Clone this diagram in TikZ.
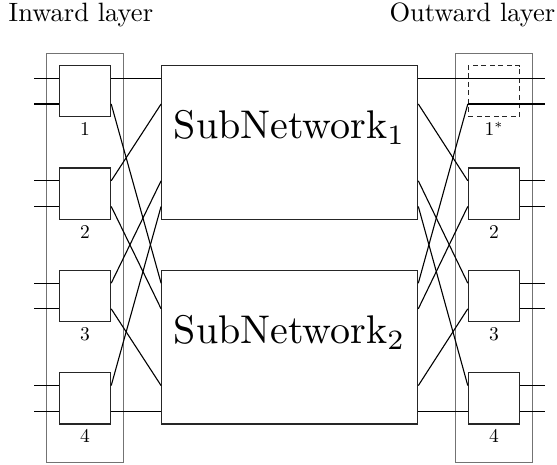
\documentclass[tikz,border=0pt]{standalone}
\usepackage{graphicx}
\begin{document}
\begin{tikzpicture}[x=1pt,y=-1pt,
  sbox/.style={draw=black!85, line width=1.2pt, minimum width=51.2pt, minimum height=51.2pt, inner sep=0pt},
  dbox/.style={sbox, dash pattern=on 5pt off 3.5pt},
  net/.style={draw=black!85, line width=1.2pt, minimum width=256pt, minimum height=153.6pt, inner sep=0pt},
  layerbox/.style={draw=black!55, line width=0.7pt, minimum width=76.6pt, minimum height=409pt, inner sep=0pt},
  wire/.style={line width=1.1pt},
  num/.style={inner sep=0pt, anchor=base},
  ttl/.style={inner sep=0pt},
  big/.style={inner sep=0pt, anchor=base}]
\useasboundingbox (0,0) rectangle (557,465);

\node[layerbox] (LL) at (85,257.8) {};
\node[layerbox] (RL) at (494,257.8) {};
\node[ttl, anchor=base west] (Tin) at (8.5,22) {\scalebox{2.65}{Inward layer}};
\node[ttl, anchor=base east] (Tout) at (555.5,22) {\scalebox{2.65}{Outward layer}};

\node[net] (S1) at (289.7,142.4) {};
\node[net] (S2) at (289.7,347.2) {};
\node[big] (S1t) at (289.7,139) {\scalebox{4.0}{SubNetwork$_1$}};
\node[big] (S2t) at (289.7,343.8) {\scalebox{4.0}{SubNetwork$_2$}};

\foreach \i/\y/\s in {1/91.2/64,2/193.6/38.4,3/296/-38.4,4/398.4/-64} {
  \node[sbox] (L\i) at (85,\y) {};
  \node[num] (Ln\i) at (85,\y+44.5) {\scalebox{1.95}{\i}};
  \coordinate (Lia\i) at (34.3,\y-12.8);
  \coordinate (Lib\i) at (34.3,\y+12.8);
  \draw[wire] (Lia\i) -- ([yshift=12.8pt]L\i.west);
  \draw[wire] (Lib\i) -- ([yshift=-12.8pt]L\i.west);
  \draw[wire] ([yshift=12.8pt]L\i.east) -- ([yshift=\s pt]S1.west);
  \draw[wire] ([yshift=-12.8pt]L\i.east) -- ([yshift=\s pt]S2.west);
  \coordinate (Roa\i) at (545,\y-12.8);
  \coordinate (Rob\i) at (545,\y+12.8);
}
\node[dbox] (R1) at (494,91.2) {};
\node[num] (Rn1) at (494,135.7) {\scalebox{1.95}{1$^{*}$}};
\draw[wire] ([yshift=12.8pt]R1.west) -- (Roa1);
\draw[wire] ([yshift=-12.8pt]R1.west) -- (Rob1);
\foreach \i/\y in {2/193.6,3/296,4/398.4} {
  \node[sbox] (R\i) at (494,\y) {};
  \node[num] (Rn\i) at (494,\y+44.5) {\scalebox{1.95}{\i}};
  \draw[wire] ([yshift=12.8pt]R\i.east) -- (Roa\i);
  \draw[wire] ([yshift=-12.8pt]R\i.east) -- (Rob\i);
}
\foreach \i/\s in {1/64,2/38.4,3/-38.4,4/-64} {
  \draw[wire] ([yshift=\s pt]S1.east) -- ([yshift=12.8pt]R\i.west);
  \draw[wire] ([yshift=\s pt]S2.east) -- ([yshift=-12.8pt]R\i.west);
}
\end{tikzpicture}
\end{document}
